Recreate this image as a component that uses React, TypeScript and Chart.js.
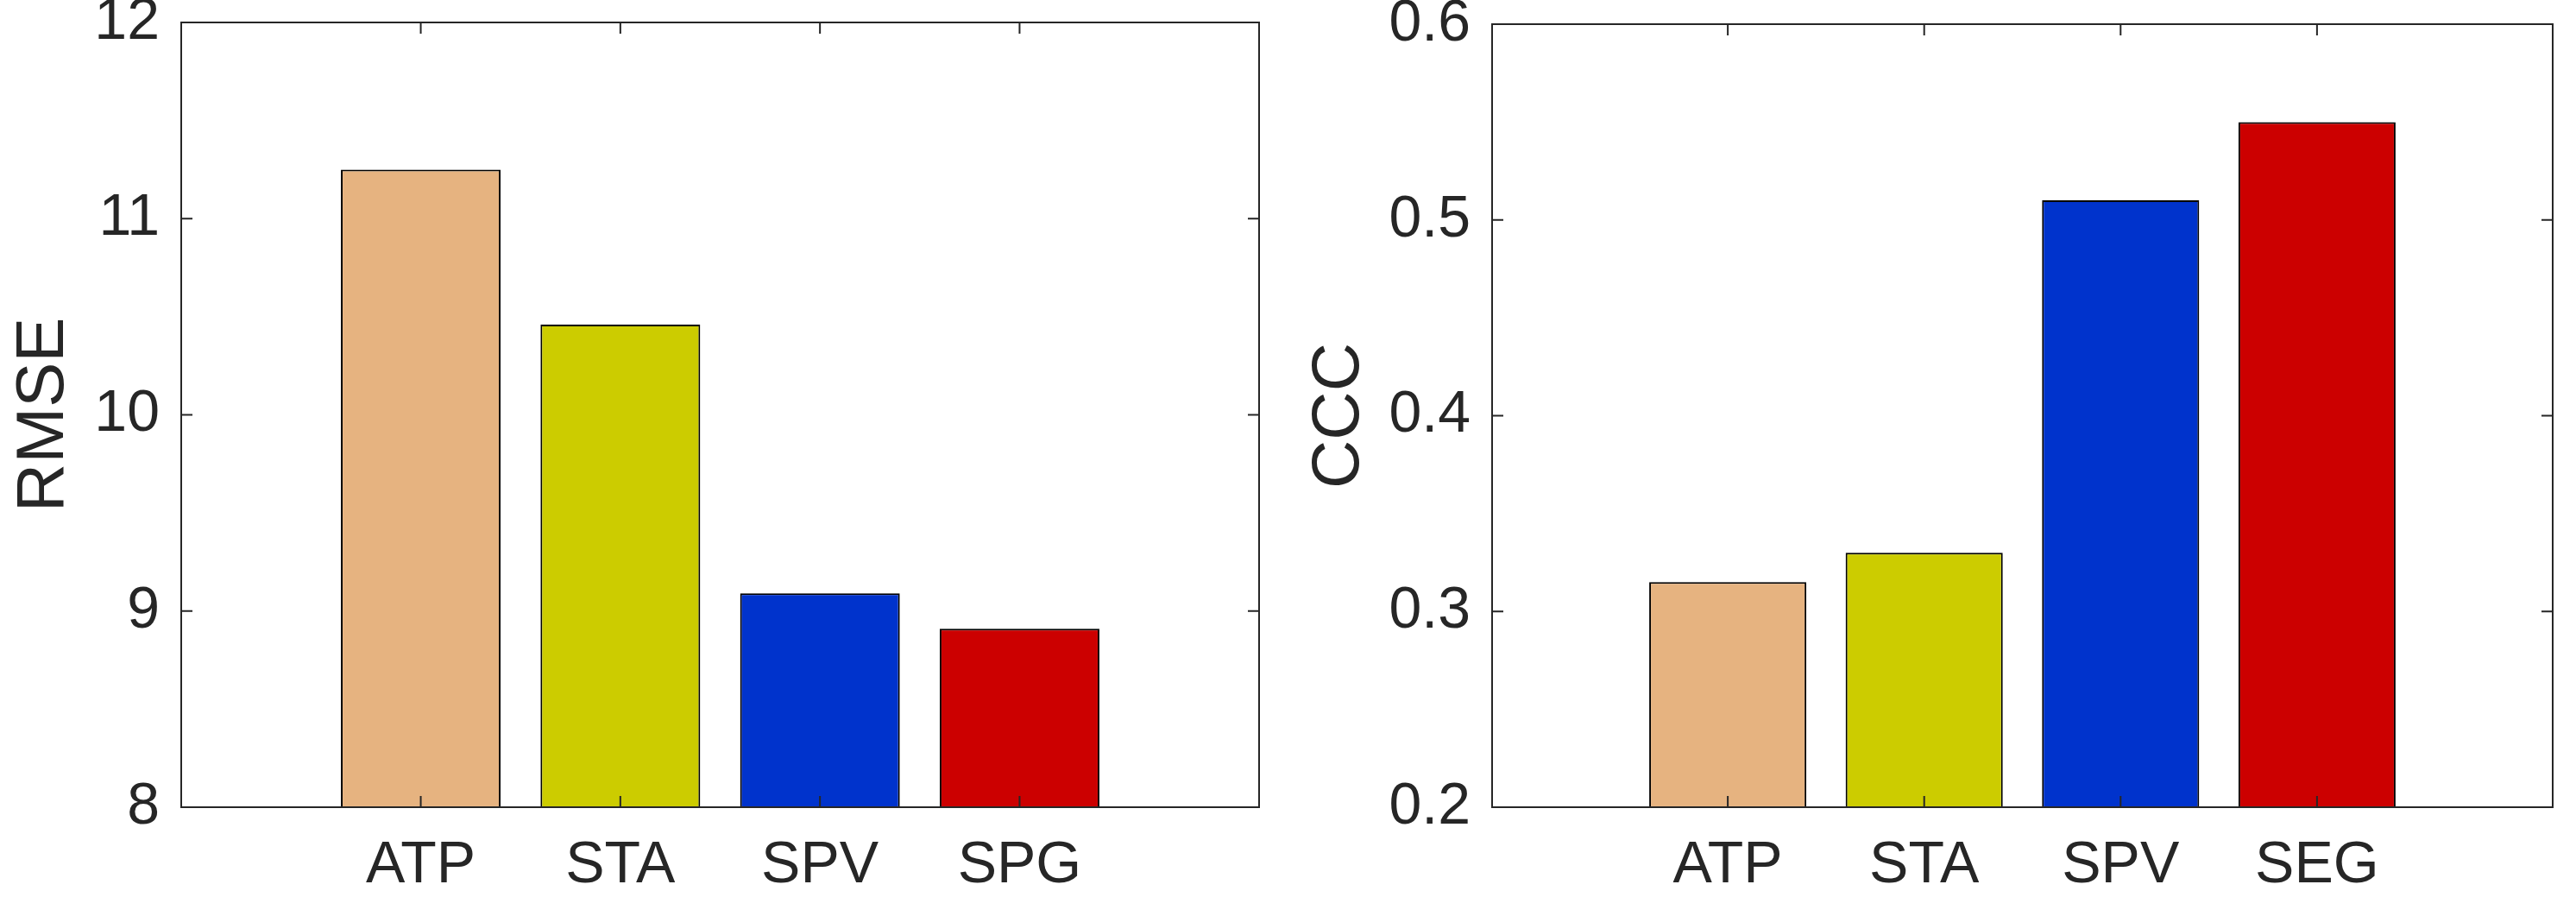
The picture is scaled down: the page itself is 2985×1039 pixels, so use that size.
import { useEffect, useRef } from 'react';
import { Chart, registerables } from 'chart.js';

Chart.register(...registerables);

// left panel
const rmseMethods = ['ATP', 'STA', 'SPV', 'SPG'];
const rmseValues = [11.25, 10.46, 9.09, 8.91];
const rmseTicks = [8, 9, 10, 11, 12];

// right panel
const cccMethods = ['ATP', 'STA', 'SPV', 'SEG'];
const cccValues = [0.315, 0.33, 0.51, 0.55];
const cccTicks = [0.2, 0.3, 0.4, 0.5, 0.6];

const barColors = ['#e6b380', '#cccc00', '#0033cc', '#cc0000'];

const AXIS_COLOR = '#262626';
const FONT = '"Liberation Sans", Arial, Helvetica, sans-serif';
const TICK_LEN = 13;

// MATLAB-like box with inward ticks on all four sides
const framePlugin = {
  id: 'frame',
  afterDatasetsDraw(chart: any) {
    const { ctx, chartArea, scales } = chart;
    const { left, right, top, bottom } = chartArea;
    ctx.save();
    ctx.strokeStyle = AXIS_COLOR;
    ctx.lineWidth = 2;
    ctx.beginPath();
    scales.y.ticks.forEach((t: any) => {
      const py = scales.y.getPixelForValue(t.value);
      ctx.moveTo(left, py);
      ctx.lineTo(left + TICK_LEN, py);
      ctx.moveTo(right, py);
      ctx.lineTo(right - TICK_LEN, py);
    });
    scales.x.ticks.forEach((t: any) => {
      const px = scales.x.getPixelForValue(t.value);
      ctx.moveTo(px, bottom);
      ctx.lineTo(px, bottom - TICK_LEN);
      ctx.moveTo(px, top);
      ctx.lineTo(px, top + TICK_LEN);
    });
    ctx.stroke();
    ctx.strokeRect(left, top, right - left, bottom - top);
    ctx.restore();
  },
};

interface PanelProps {
  width: number;
  height: number;
  methods: string[];
  values: number[];
  ticks: number[];
  title: string;
  yAxisWidth: number;
  padTop: number;
  padRight: number;
  titlePad: number;
}

function BarPanel(props: PanelProps) {
  const canvasRef = useRef<HTMLCanvasElement | null>(null);

  useEffect(() => {
    if (!canvasRef.current) return;
    const { methods, values, ticks, title } = props;

    const chart = new Chart(canvasRef.current, {
      type: 'bar',
      data: {
        datasets: [
          {
            data: values.map((v, i) => ({ x: i + 1, y: v })),
            backgroundColor: barColors,
            borderColor: '#000000',
            borderWidth: 2,
            borderSkipped: false,
            barPercentage: 1,
            categoryPercentage: 0.8,
          },
        ],
      },
      options: {
        responsive: false,
        animation: false,
        devicePixelRatio: 1,
        events: [],
        layout: {
          padding: { left: 0, top: props.padTop, right: props.padRight, bottom: 0 },
        },
        plugins: {
          legend: { display: false },
          tooltip: { enabled: false },
          title: { display: false },
        },
        scales: {
          x: {
            type: 'linear',
            bounds: 'data',
            offset: false,
            min: -0.2,
            max: 5.2,
            afterBuildTicks: (scale: any) => {
              scale.ticks = methods.map((_, i) => ({ value: i + 1 }));
            },
            afterFit: (scale: any) => {
              scale.height = 104;
              scale.paddingLeft = 0;
              scale.paddingRight = 0;
            },
            grid: { display: false, drawTicks: false },
            border: { display: false },
            ticks: {
              autoSkip: false,
              maxRotation: 0,
              padding: 27,
              color: AXIS_COLOR,
              font: { family: FONT, size: 68 },
              callback: (_v: any, i: number) => methods[i] ?? '',
            },
          },
          y: {
            type: 'linear',
            bounds: 'data',
            min: ticks[0],
            max: ticks[ticks.length - 1],
            afterBuildTicks: (scale: any) => {
              scale.ticks = ticks.map((v) => ({ value: v }));
            },
            afterFit: (scale: any) => {
              scale.width = props.yAxisWidth;
              scale.paddingTop = 0;
              scale.paddingBottom = 0;
            },
            grid: { display: false, drawTicks: false },
            border: { display: false },
            ticks: {
              padding: 25,
              color: AXIS_COLOR,
              font: { family: FONT, size: 68 },
              callback: (v: any) => String(v),
            },
            title: {
              display: true,
              text: title,
              color: AXIS_COLOR,
              font: { family: FONT, size: 78 },
              padding: { top: props.titlePad, bottom: 0 },
            },
          },
        },
      },
      plugins: [framePlugin],
    });

    return () => {
      chart.destroy();
    };
  }, []);

  return (
    <canvas
      ref={canvasRef}
      width={props.width}
      height={props.height}
      style={{ display: 'block', width: props.width, height: props.height }}
    />
  );
}

export default function App() {
  return (
    <div
      style={{
        position: 'absolute',
        left: 0,
        top: 0,
        width: 2985,
        height: 1039,
        display: 'flex',
        background: '#ffffff',
      }}
    >
      <BarPanel
        width={1490}
        height={1039}
        methods={rmseMethods}
        values={rmseValues}
        ticks={rmseTicks}
        title="RMSE"
        yAxisWidth={210}
        padTop={26}
        padRight={31}
        titlePad={5}
      />
      <BarPanel
        width={1495}
        height={1039}
        methods={cccMethods}
        values={cccValues}
        ticks={cccTicks}
        title="CCC"
        yAxisWidth={239}
        padTop={28}
        padRight={27}
        titlePad={16}
      />
    </div>
  );
}
